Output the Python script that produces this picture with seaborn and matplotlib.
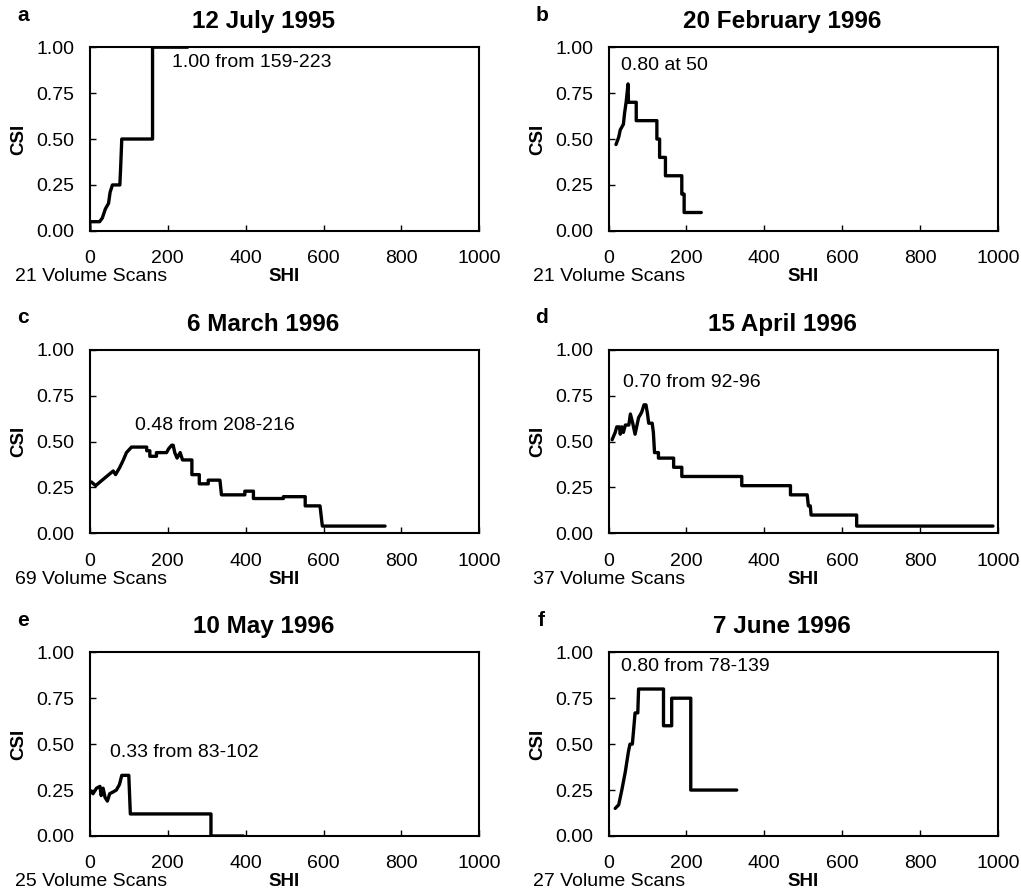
import matplotlib
matplotlib.use("Agg")
import matplotlib.pyplot as plt
import seaborn as sns
import pandas as pd

# CSI vs SHI threshold, six case days
letters = ['a', 'b', 'c', 'd', 'e', 'f']
titles = ['12 July 1995', '20 February 1996', '6 March 1996',
          '15 April 1996', '10 May 1996', '7 June 1996']
scans = [21, 21, 69, 37, 25, 27]
notes = ['1.00 from 159-223', '0.80 at 50', '0.48 from 208-216',
         '0.70 from 92-96', '0.33 from 83-102', '0.80 from 78-139']
note_xy = [(211, 0.915), (31, 0.90), (116, 0.585), (36, 0.82), (51, 0.455), (33, 0.92)]

shi_a = [0, 0, 25, 32, 40, 48, 52, 58, 77, 79, 82, 161, 161, 251]
csi_a = [0.0, 0.05, 0.05, 0.07, 0.12, 0.15, 0.21, 0.25, 0.25, 0.34, 0.50, 0.50, 1.00, 1.00]

shi_b = [19, 26, 30, 38, 41, 45, 50, 51, 71, 71, 124, 124, 131, 131, 146, 146,
         188, 188, 194, 194, 238]
csi_b = [0.47, 0.51, 0.55, 0.58, 0.64, 0.70, 0.80, 0.70, 0.70, 0.60, 0.60, 0.50,
         0.50, 0.40, 0.40, 0.30, 0.30, 0.20, 0.20, 0.10, 0.10]

shi_c = [4, 15, 26, 43, 60, 66, 77, 86, 94, 107, 146, 146, 154, 154, 171, 171,
         197, 202, 210, 214, 218, 224, 232, 238, 262, 262, 281, 281, 304, 304,
         334, 338, 398, 398, 420, 420, 497, 497, 553, 553, 591, 597, 758]
csi_c = [0.28, 0.26, 0.28, 0.31, 0.34, 0.32, 0.36, 0.40, 0.44, 0.47, 0.47, 0.45,
         0.45, 0.42, 0.42, 0.44, 0.44, 0.46, 0.48, 0.48, 0.44, 0.41, 0.44, 0.40,
         0.40, 0.32, 0.32, 0.27, 0.27, 0.29, 0.29, 0.21, 0.21, 0.23, 0.23, 0.19,
         0.19, 0.20, 0.20, 0.15, 0.15, 0.04, 0.04]

shi_d = [9, 17, 21, 28, 30, 34, 38, 43, 52, 56, 62, 68, 77, 85, 91, 96, 100, 103,
         112, 115, 118, 128, 128, 167, 167, 188, 188, 342, 342, 467, 467, 510,
         513, 518, 520, 637, 637, 987]
csi_d = [0.51, 0.55, 0.58, 0.58, 0.54, 0.58, 0.55, 0.59, 0.59, 0.65, 0.60, 0.54,
         0.63, 0.66, 0.70, 0.70, 0.65, 0.60, 0.60, 0.55, 0.44, 0.44, 0.41, 0.41,
         0.36, 0.36, 0.31, 0.31, 0.26, 0.26, 0.21, 0.21, 0.15, 0.15, 0.10, 0.10,
         0.04, 0.04]

shi_e = [0, 8, 17, 26, 29, 34, 39, 45, 51, 60, 68, 76, 82, 100, 104, 311, 311, 394]
csi_e = [0.25, 0.23, 0.26, 0.27, 0.22, 0.26, 0.21, 0.19, 0.23, 0.24, 0.25, 0.28,
         0.33, 0.33, 0.12, 0.12, 0.00, 0.00]

shi_f = [17, 26, 34, 43, 51, 55, 61, 64, 68, 75, 77, 141, 141, 162, 162, 211, 211, 329]
csi_f = [0.15, 0.17, 0.25, 0.35, 0.46, 0.50, 0.50, 0.57, 0.67, 0.67, 0.80, 0.80,
         0.60, 0.60, 0.75, 0.75, 0.25, 0.25]

shi_all = [shi_a, shi_b, shi_c, shi_d, shi_e, shi_f]
csi_all = [csi_a, csi_b, csi_c, csi_d, csi_e, csi_f]

x_ticks = [0, 200, 400, 600, 800, 1000]
y_ticks = [0.0, 0.25, 0.5, 0.75, 1.0]

sns.set_style('white')
plt.rcParams['font.family'] = ['Liberation Sans', 'DejaVu Sans']
plt.rcParams['text.color'] = 'black'
plt.rcParams['axes.labelcolor'] = 'black'
plt.rcParams['xtick.color'] = 'black'
plt.rcParams['ytick.color'] = 'black'

fig, axes = plt.subplots(3, 2, figsize=(10.21, 8.9), dpi=100)
fig.subplots_adjust(left=0.088, right=0.9775, top=0.947, bottom=0.0607,
                    hspace=0.647, wspace=0.332)

for i, ax in enumerate(axes.flat):
    df = pd.DataFrame({'SHI': shi_all[i], 'CSI': csi_all[i]})
    sns.lineplot(data=df, x='SHI', y='CSI', estimator=None, sort=False,
                 color='black', lw=2.4, ax=ax)
    ax.set_xlim(0, 1000)
    ax.set_ylim(0, 1)
    ax.set_xticks(x_ticks)
    ax.set_yticks(y_ticks)
    ax.set_yticklabels([f'{v:.2f}' for v in y_ticks])
    ax.tick_params(axis='x', direction='in', length=4, width=1, pad=14,
                   labelsize=14, bottom=True, colors='black')
    ax.tick_params(axis='y', direction='in', length=4, width=1, pad=11,
                   labelsize=14, left=True, colors='black')
    for s in ax.spines.values():
        s.set_linewidth(1.5)
        s.set_color('black')
    ax.set_xlabel('')
    ax.set_ylabel('')
    ax.text(0.5, -0.25, 'SHI', transform=ax.transAxes, ha='center', va='center',
            fontsize=13.5, fontweight='bold', color='black')
    ax.text(-0.183, 0.5, 'CSI', transform=ax.transAxes, ha='center', va='center',
            rotation=90, fontsize=13.5, fontweight='bold', color='black')
    ax.text(-0.193, -0.25, f'{scans[i]} Volume Scans', transform=ax.transAxes,
            ha='left', va='center', fontsize=14, color='black')
    ax.text(0.446, 1.138, titles[i], transform=ax.transAxes, ha='center',
            va='center', fontsize=17.5, fontweight='bold', color='black')
    ax.text(-0.172, 1.175, letters[i], transform=ax.transAxes, ha='center',
            va='center', fontsize=15, fontweight='bold', color='black')
    ax.text(note_xy[i][0], note_xy[i][1], notes[i], ha='left', va='center',
            fontsize=14, color='black')

fig.savefig('out.png', dpi=100, facecolor='white')
